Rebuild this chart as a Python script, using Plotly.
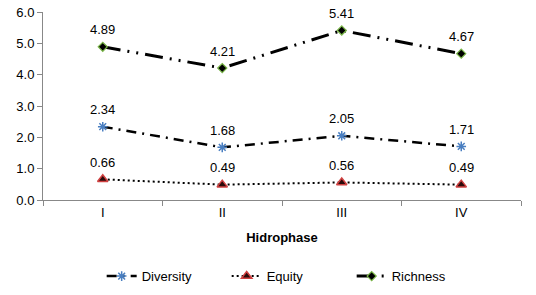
import plotly.graph_objects as go

categories = ["I", "II", "III", "IV"]
diversity = [2.34, 1.68, 2.05, 1.71]
equity = [0.66, 0.49, 0.56, 0.49]
richness = [4.89, 4.21, 5.41, 4.67]
y_ticks = [0, 1, 2, 3, 4, 5, 6]

FONT = "Liberation Sans, Arial"

fig = go.Figure()
fig.add_trace(go.Scatter(
    x=categories, y=diversity, name="Diversity", mode="lines+markers",
    line=dict(color="black", width=2.5, dash="10px,6px,2px,6px"),
    marker=dict(symbol="asterisk-open", size=8, color="#4a7fc1", line=dict(color="#4a7fc1", width=1.5)),
))
fig.add_trace(go.Scatter(
    x=categories, y=equity, name="Equity", mode="lines+markers",
    line=dict(color="black", width=2, dash="2px,3px"),
    marker=dict(symbol="triangle-up", size=9, color="#2a0a0a", line=dict(color="#d04040", width=1.5)),
))
fig.add_trace(go.Scatter(
    x=categories, y=richness, name="Richness", mode="lines+markers",
    line=dict(color="black", width=3, dash="18px,7px,2px,7px,2px,7px"),
    marker=dict(symbol="diamond", size=7, color="black", line=dict(color="#7ab648", width=1.2)),
))

for series in (diversity, equity, richness):
    for c, v in zip(categories, series):
        fig.add_annotation(x=c, y=v, text=f"{v:.2f}", showarrow=False, yshift=17,
                           font=dict(family=FONT, size=13, color="black"))

fig.update_layout(
    width=536, height=295,
    margin=dict(l=43, r=15, t=12, b=95, autoexpand=False),
    plot_bgcolor="white", paper_bgcolor="white",
    font=dict(family=FONT, size=13, color="black"),
    showlegend=True,
    legend=dict(orientation="h", x=0.515, xanchor="center", y=-0.405, yanchor="middle",
                font=dict(size=13), tracegroupgap=0,
                entrywidth=80, entrywidthmode="pixels"),
    xaxis=dict(
        title=dict(text="<b>Hidrophase</b>", font=dict(size=13), standoff=14),
        showline=True, linecolor="#888888", linewidth=1,
        ticks="outside", ticklen=5, tickcolor="#888888",
        tickson="boundaries", showgrid=False, range=[-0.5, 3.5],
        tickfont=dict(size=13), automargin=False,
    ),
    yaxis=dict(
        range=[0, 6], tickvals=y_ticks, tickformat=".1f",
        showline=True, linecolor="#888888", linewidth=1,
        ticks="outside", ticklen=5, tickcolor="#888888",
        showgrid=False, zeroline=False, tickfont=dict(size=13), automargin=False,
    ),
)

fig.write_html("out.html", config={"displayModeBar": False},
               post_script="document.body.style.margin='0px';document.body.style.overflow='hidden';")
